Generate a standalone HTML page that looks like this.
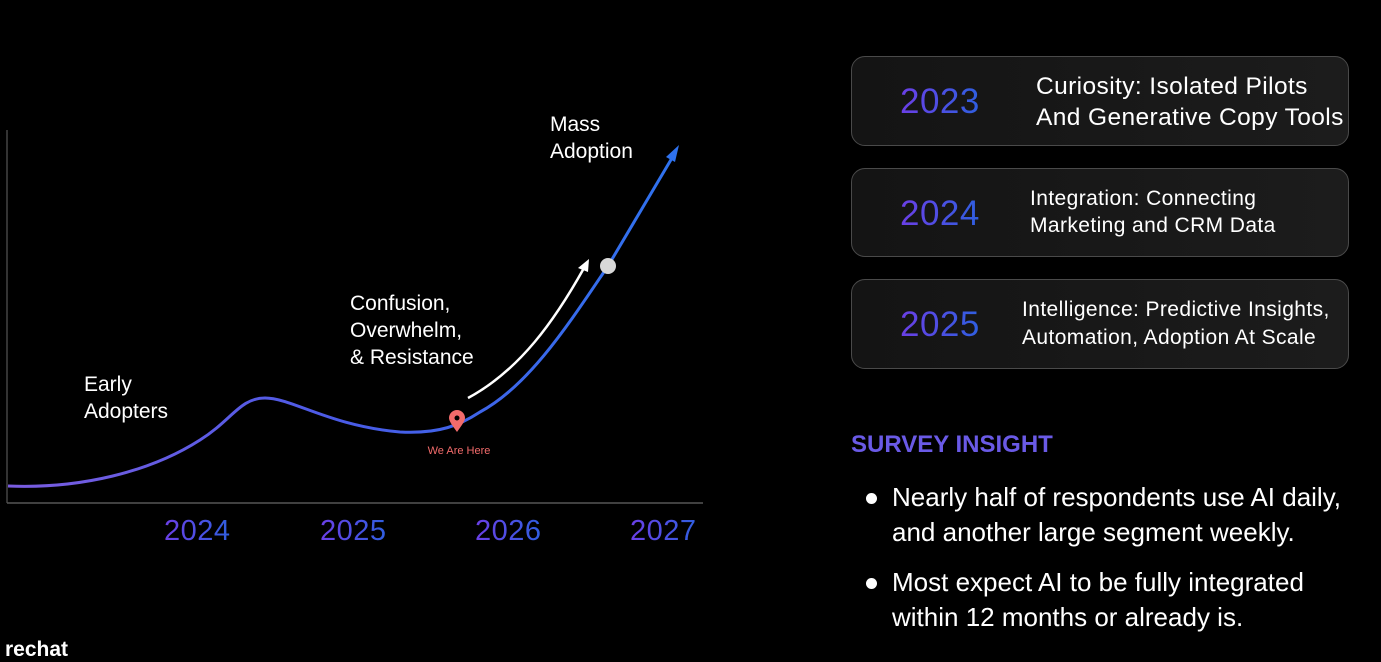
<!DOCTYPE html>
<html><head><meta charset="utf-8"><style>
body{margin:0;background:#000;width:1381px;height:652px;overflow:hidden;position:relative;font-family:"Liberation Sans",sans-serif;color:#fff}
.box{position:absolute;left:851px;width:496px;border:1.5px solid #4a4a4a;border-radius:14px;background:linear-gradient(90deg,#141414,#1c1c1c)}
.yr{position:absolute;left:48px;font-size:35px;letter-spacing:0.5px;background:linear-gradient(90deg,#6b3fe6,#2f5fe0);-webkit-background-clip:text;color:transparent}
.tx{position:absolute;font-size:24.5px;line-height:31px;color:#fff;letter-spacing:0.4px;white-space:nowrap}
.t{position:absolute;color:#fff;font-size:21px;line-height:27px}
.yl{position:absolute;top:515px;font-size:29px;letter-spacing:0.5px;background:linear-gradient(90deg,#6b3fe6,#2f5fe0);-webkit-background-clip:text;color:transparent}
.b{position:absolute;left:866px;font-size:26px;line-height:35px;white-space:nowrap}
.b:before{content:"";position:absolute;left:0;top:13px;width:11px;height:11px;border-radius:50%;background:#fff}
.b span{display:block;padding-left:26px}
</style></head><body>
<svg width="1381" height="652" style="position:absolute;left:0;top:0">
<defs><linearGradient id="g" x1="0" x2="1"><stop offset="0" stop-color="#7a5ce0"/><stop offset="0.5" stop-color="#4a5be6"/><stop offset="1" stop-color="#2f72ee"/></linearGradient></defs>
<line x1="7" y1="130" x2="7" y2="503" stroke="#444" stroke-width="1.5"/>
<line x1="7" y1="503" x2="703" y2="503" stroke="#555" stroke-width="1.5"/>
<path d="M8,486 C80,489 150,472 200,440 C232,420 240,398 265,398 C292,398 330,426 400,432 C440,434 460,425 480,412 C530,385 570,322 608,266 L672,158" fill="none" stroke="url(#g)" stroke-width="3"/>
<polygon points="679,145 666,157 675,162" fill="#2f72ee"/>
<path d="M468,398 C520,370 555,320 584,268" fill="none" stroke="#fff" stroke-width="2.5"/>
<polygon points="589,259 578,268 588,272" fill="#fff"/>
<circle cx="608" cy="266" r="8" fill="#d8d8d8"/>
<path d="M457,432 C452,425 449,421 449,418 A8,8 0 1 1 465,418 C465,421 462,425 457,432Z" fill="#f26b6b"/>
<circle cx="457" cy="418" r="2.5" fill="#000"/>
<text x="459" y="454" font-size="11" fill="#f26b6b" text-anchor="middle" font-family="Liberation Sans">We Are Here</text>
</svg>
<div class="t" style="left:550px;top:111px">Mass<br>Adoption</div>
<div class="t" style="left:350px;top:290px">Confusion,<br>Overwhelm,<br>&amp; Resistance</div>
<div class="t" style="left:84px;top:371px">Early<br>Adopters</div>
<div class="yl" style="left:164px">2024</div>
<div class="yl" style="left:320px">2025</div>
<div class="yl" style="left:475px">2026</div>
<div class="yl" style="left:630px">2027</div>
<div style="position:absolute;left:5px;top:638px;font-size:21px;font-weight:bold">rechat</div>
<div class="box" style="top:56px;height:88px"><div class="yr" style="top:25px">2023</div><div class="tx" style="left:184px;top:14px">Curiosity: Isolated Pilots<br>And Generative Copy Tools</div></div>
<div class="box" style="top:168px;height:87px"><div class="yr" style="top:25px">2024</div><div class="tx" style="left:178px;top:16px;font-size:21px;line-height:27px">Integration: Connecting<br>Marketing and CRM Data</div></div>
<div class="box" style="top:279px;height:88px"><div class="yr" style="top:25px">2025</div><div class="tx" style="left:170px;top:16px;font-size:21px;line-height:28px">Intelligence: Predictive Insights,<br>Automation, Adoption At Scale</div></div>
<div style="position:absolute;left:851px;top:431px;font-size:24px;font-weight:bold;color:#6a5ae6">SURVEY INSIGHT</div>
<div class="b" style="top:480px"><span>Nearly half of respondents use AI daily,<br>and another large segment weekly.</span></div>
<div class="b" style="top:565px"><span>Most expect AI to be fully integrated<br>within 12 months or already is.</span></div>
</body></html>
